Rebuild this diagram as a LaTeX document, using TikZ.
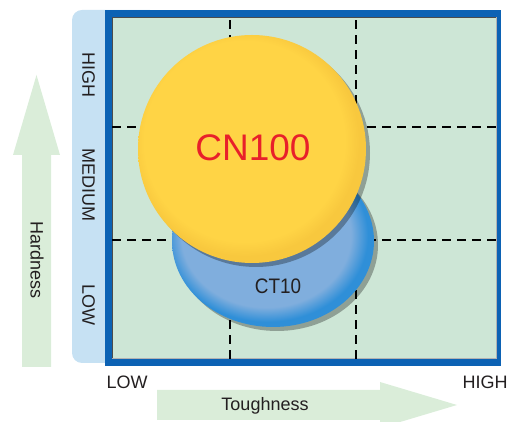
\documentclass[tikz,border=0pt]{standalone}
\usepackage{fontspec}
\setmainfont{Liberation Sans}
\usetikzlibrary{shadows}

\definecolor{panelblue}{HTML}{C6E1F3}
\definecolor{frameblue}{HTML}{0C62B4}
\definecolor{gridgreen}{HTML}{CDE6D6}
\definecolor{arrowgreen}{HTML}{DAEDD9}
\definecolor{cnyel}{HTML}{FFD445}
\definecolor{cnedge}{HTML}{F8C83E}
\definecolor{ctblue}{HTML}{80AEDD}
\definecolor{ctedge}{HTML}{2F8FD8}
\definecolor{cnred}{HTML}{E8202A}
\definecolor{txtgray}{HTML}{231F20}

\pgfdeclareradialshading{cnrim}{\pgfpoint{-3bp}{3bp}}{color(0bp)=(cnyel); color(22bp)=(cnyel); color(25bp)=(cnedge); color(50bp)=(cnedge)}
\pgfdeclareradialshading{ctrim}{\pgfpoint{-3bp}{3bp}}{color(0bp)=(ctblue); color(21bp)=(ctblue); color(25bp)=(ctedge); color(50bp)=(ctedge)}

\begin{document}
\begin{tikzpicture}[x=1pt, y=1pt,
	lbl/.style={text=txtgray, font=\fontsize{18}{18}\selectfont, inner sep=0pt},
	gridline/.style={dash pattern=on 9pt off 6pt, line width=2pt},
	bigarrow/.style={fill=arrowgreen},
	softshadow/.style={drop shadow={shadow xshift=4pt, shadow yshift=-4pt, opacity=.3, fill=black}}]
\useasboundingbox (0,0) rectangle (509,422);
% side panel and frame
\fill[panelblue, rounded corners=10pt] (72,59) rectangle (160,412);
\fill[frameblue] (105,56) rectangle (501,412);
\fill[gridgreen] (112,63) rectangle (497,405);
\draw[black!70, line width=1.5pt] (112.7,63) -- (112.7,404.3) -- (497,404.3);
\draw[black!30, line width=1pt] (112,63.5) -- (496.5,63.5) -- (496.5,405);
\foreach \gx in {230,356}{
	\draw[gridline] (\gx,63) -- (\gx,405);
	}
\foreach \gy in {295,182}{
	\draw[gridline] (112,\gy) -- (497,\gy);
	}
% grades
\shade[shading=ctrim, softshadow] (273,181) ellipse [x radius=101, y radius=86];
\shade[shading=cnrim, softshadow] (252,273) circle [radius=114];
\node[text=cnred, font=\fontsize{37}{37}\selectfont, inner sep=0pt] (cn) at (253,274) {CN100};
\node[lbl, font=\fontsize{21}{21}\selectfont, xscale=.9] (ct) at (278,136) {CT10};
% hardness scale
\node[lbl, rotate=-90] (hhigh) at (88.5,347) {HIGH};
\node[lbl, rotate=-90] (hmed) at (88.5,237) {MEDIUM};
\node[lbl, rotate=-90] (hlow) at (88.5,117) {LOW};
\fill[bigarrow] (22,55) -- (22,267) -- (13,267) -- (36.5,347) -- (60,267) -- (51,267) -- (51,55) -- cycle;
\node[lbl, rotate=-90] (hard) at (37,162) {Hardness};
% toughness scale
\fill[bigarrow] (157,32) -- (380,32) -- (380,40) -- (457,17) -- (380,-6) -- (380,2) -- (157,2) -- cycle;
\node[lbl, anchor=base] (tough) at (265,11) {Toughness};
\node[lbl, anchor=base] (tlow) at (127,33) {LOW};
\node[lbl, anchor=base] (thigh) at (485,33) {HIGH};
\end{tikzpicture}
\end{document}
